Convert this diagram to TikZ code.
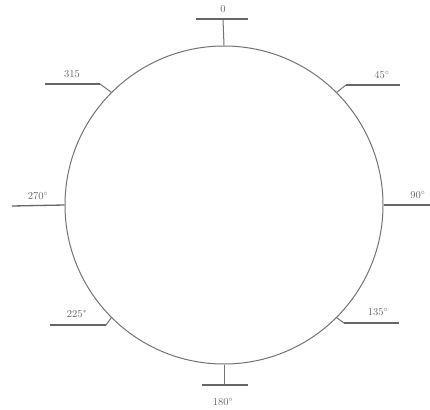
\documentclass[tikz,border=0pt]{standalone}
\begin{document}
\begin{tikzpicture}[x=1pt,y=-1pt,
  ln/.style={draw=black!55, line width=1pt},
  bar/.style={draw=black!60, line width=1.3pt},
  lbl/.style={text=black!60, font=\fontsize{10.5}{12}\selectfont, inner sep=1pt}]
\useasboundingbox[fill=white] (0,0) rectangle (430,409);
\node[ln, circle, minimum size=318pt, inner sep=0pt] (c) at (224,205) {};
% top (0)
\coordinate (t1) at (223,19);
\coordinate (tl) at (196,19);
\coordinate (tr) at (248,19);
\draw[ln] (c.north) -- (t1);
\draw[bar] (tl) -- (tr);
\node[lbl] (l0) at (223,9) {0};
% bottom (180)
\coordinate (b1) at (224,385);
\coordinate (bl) at (202,385);
\coordinate (br) at (248,385);
\draw[ln] (c.south) -- (b1);
\draw[bar] (bl) -- (br);
\node[lbl] (l180) at (223,402) {180$^\circ$};
% 315
\coordinate (a1) at (100,84);
\coordinate (a2) at (45,84);
\draw[ln] (c.135) -- (a1);
\draw[bar] (a1) -- (a2);
\node[lbl] (l315) at (72,74) {315};
% 45
\coordinate (b45) at (346,85);
\coordinate (b45e) at (400,85);
\draw[ln] (c.45) -- (b45);
\draw[bar] (b45) -- (b45e);
\node[lbl] (l45) at (382,75) {45$^\circ$};
% 270
\coordinate (w1) at (12,206);
\draw[bar] (c.west) -- (w1);
\node[lbl] (l270) at (38,196) {270$^\circ$};
% 90
\coordinate (e1) at (430,205);
\draw[bar] (c.east) -- (e1);
\node[lbl] (l90) at (418,195) {90$^\circ$};
% 225
\coordinate (s1) at (106,325);
\coordinate (s2) at (50,325);
\draw[ln] (c.225) -- (s1);
\draw[bar] (s1) -- (s2);
\node[lbl] (l225) at (77,314) {225$^\ast$};
% 135
\coordinate (r1) at (344,323);
\coordinate (r2) at (399,323);
\draw[ln] (c.315) -- (r1);
\draw[bar] (r1) -- (r2);
\node[lbl] (l135) at (378,312) {135$^\circ$};
\end{tikzpicture}
\end{document}
